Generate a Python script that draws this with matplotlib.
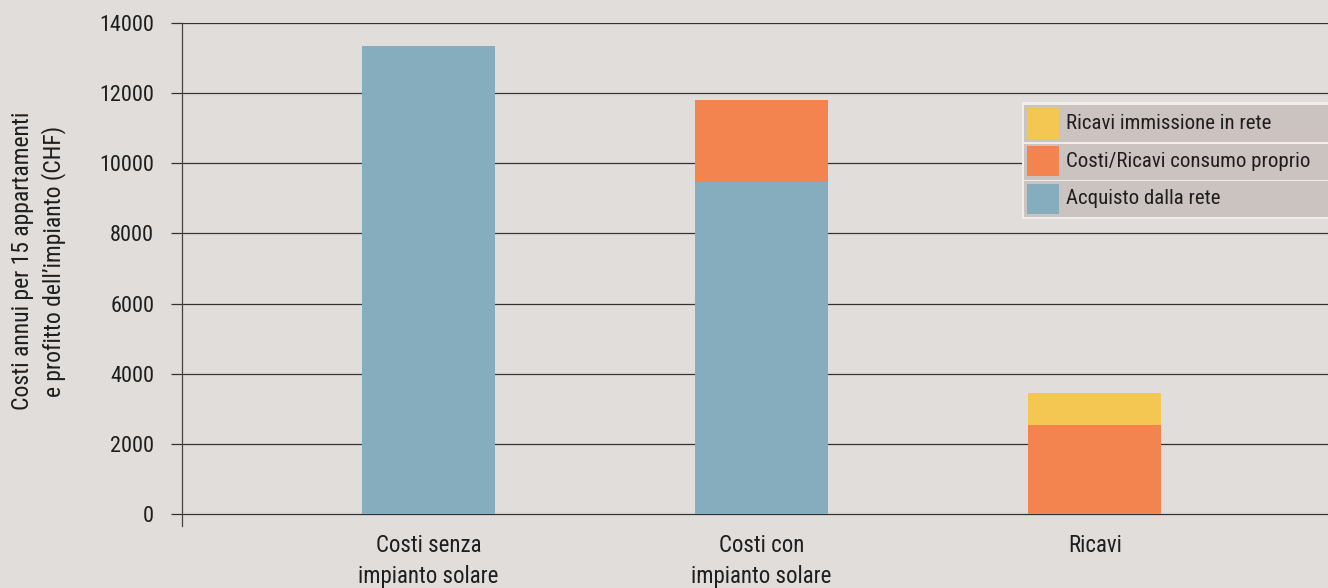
import matplotlib
matplotlib.use("Agg")
import matplotlib.pyplot as plt
from matplotlib.patches import Rectangle

categories = ["Costi senza\nimpianto solare", "Costi con\nimpianto solare", "Ricavi"]
acquisto = [13350, 9470, 0]
consumo = [0, 2330, 2540]
immissione = [0, 0, 910]
yticks = [0, 2000, 4000, 6000, 8000, 10000, 12000, 14000]
legend_labels = ["Ricavi immissione in rete", "Costi/Ricavi consumo proprio", "Acquisto dalla rete"]

C_BLUE = "#85ADBE"
C_ORANGE = "#F4844F"
C_YELLOW = "#F4C752"
BG = "#E1DDDA"
TXT = "#1e1e1e"

plt.rcParams['font.family'] = ['Roboto Condensed', 'DejaVu Sans']

W, H = 1328, 588
fig = plt.figure(figsize=(W / 100, H / 100), dpi=100, facecolor=BG)
ax = fig.add_axes([182 / W, 1 - 526 / H, 1 - 182 / W, (526 - 23) / H])
ax.set_facecolor(BG)

x = list(range(len(categories)))
bw = 0.4
ax.bar(x, acquisto, bw, color=C_BLUE, zorder=3)
ax.bar(x, consumo, bw, bottom=acquisto, color=C_ORANGE, zorder=3)
bott = [a + b for a, b in zip(acquisto, consumo)]
ax.bar(x, immissione, bw, bottom=bott, color=C_YELLOW, zorder=3)

ax.set_xlim(-0.739, 2.70)
ax.set_ylim(-340, 14000)
ax.set_yticks(yticks)
ax.set_yticklabels([str(v) for v in yticks], fontsize=16, color=TXT)
ax.yaxis.grid(True, color="#333333", linewidth=0.9, zorder=1)
ax.tick_params(axis='y', length=8, width=0.9, color="#333333", pad=12)
ax.set_xticks(x)
ax.set_xticklabels(categories, fontsize=16.5, color=TXT, linespacing=1.4)
ax.tick_params(axis='x', length=0, pad=6)
for s in ["top", "right", "bottom"]:
    ax.spines[s].set_visible(False)
ax.spines["left"].set_color("#444444")
ax.spines["left"].set_linewidth(0.9)
ax.spines["left"].set_bounds(-340, 14000)

fig.text(38.5 / W, 1 - 261 / H, "Costi annui per 15 appartamenti\ne profitto dell\u2019impianto (CHF)",
         rotation=90, ha="center", va="center", fontsize=17, color=TXT,
         linespacing=1.4)

# legend (manual, in figure pixel coordinates)
rows = [(105, 142), (143.5, 179.5), (181, 217)]
colors = [C_YELLOW, C_ORANGE, C_BLUE]
fig.patches.append(Rectangle((1022 / W, 1 - 219 / H), (W - 1022) / W, (219 - 102) / H,
                             transform=fig.transFigure, facecolor="#F0EDEB",
                             edgecolor="none", zorder=5))
for (y0, y1), col, lab in zip(rows, colors, legend_labels):
    fig.patches.append(Rectangle((1024 / W, 1 - y1 / H), (W - 1024) / W, (y1 - y0) / H,
                                 transform=fig.transFigure, facecolor="#CAC3C0",
                                 edgecolor="none", zorder=6))
    fig.patches.append(Rectangle((1027 / W, 1 - (y1 - 3) / H), 32 / W, (y1 - y0 - 6) / H,
                                 transform=fig.transFigure, facecolor=col,
                                 edgecolor="none", zorder=7))
    fig.text(1066 / W, 1 - ((y0 + y1) / 2) / H, lab, ha="left", va="center",
             fontsize=15, color=TXT, zorder=8)

fig.savefig("out.png", dpi=100, facecolor=BG)
